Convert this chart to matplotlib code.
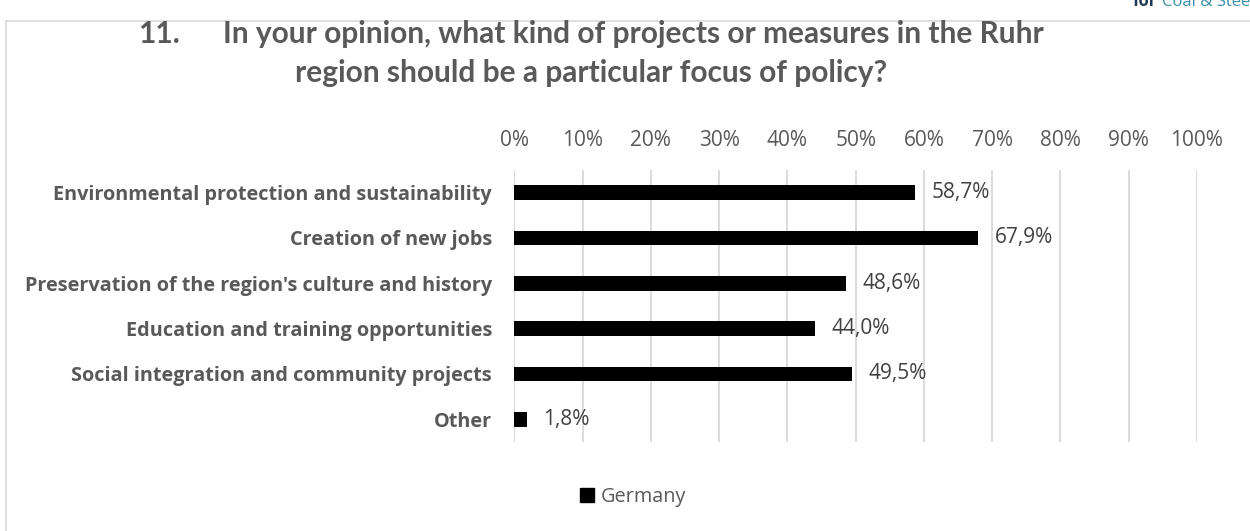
import matplotlib
matplotlib.use("Agg")
import matplotlib.pyplot as plt
from matplotlib.patches import Rectangle
from matplotlib.lines import Line2D

categories = ["Environmental protection and sustainability",
              "Creation of new jobs",
              "Preservation of the region's culture and history",
              "Education and training opportunities",
              "Social integration and community projects",
              "Other"]
values = [58.7, 67.9, 48.6, 44.0, 49.5, 1.8]
value_labels = ["58,7%", "67,9%", "48,6%", "44,0%", "49,5%", "1,8%"]
xticks = list(range(0, 101, 10))
xtick_labels = [f"{t}%" for t in xticks]
series_name = "Germany"

plt.rcParams['font.family'] = ['Open Sans', 'DejaVu Sans']
gray = "#595959"

W, H = 1250, 531
fig = plt.figure(figsize=(12.5, 5.31), dpi=100)
ax = fig.add_axes([514.3 / W, 1 - 442 / H, 682.7 / W, 272 / H])

y = list(range(len(categories)))
ax.barh(y, values, height=0.33, color="black", zorder=3)
ax.set_ylim(len(categories) - 0.5, -0.5)
ax.set_xlim(0, 100)
ax.set_xticks(xticks)
ax.set_xticklabels(xtick_labels, color=gray, fontsize=15)
ax.xaxis.tick_top()
ax.tick_params(axis='x', length=0, pad=13.5)
ax.set_yticks(y)
ax.set_yticklabels(categories, color=gray, fontsize=14.3, fontweight='bold')
ax.tick_params(axis='y', length=0, pad=16)
ax.grid(axis='x', color="#d9d9d9", linewidth=1.3, zorder=0)
for s in ax.spines.values():
    s.set_visible(False)
ax.axvline(0, color="#d9d9d9", linewidth=1.3, zorder=1)

for yi, v, lab in zip(y, values, value_labels):
    ax.annotate(lab, (v, yi), xytext=(12, 0), textcoords='offset points',
                va='center', ha='left', fontsize=15, color="#404040")

# Frame
fig.patches.append(Rectangle((6 / W, -0.01), 1.1, 1 - 21 / H + 0.01,
                             transform=fig.transFigure, fill=False,
                             edgecolor="#d9d9d9", linewidth=1.2))

# Title
tkw = dict(fontsize=21.5, fontweight='bold', color=gray, va='baseline', ha='left',
           family=['Lato', 'DejaVu Sans'])
fig.text(138 / W, 1 - 43 / H, "11.", **tkw)
fig.text(223 / W, 1 - 43 / H,
         "In your opinion, what kind of projects or measures in the Ruhr", **tkw)
fig.text(295 / W, 1 - 82 / H,
         "region should be a particular focus of policy?", **tkw)

# Logo fragment
fig.text(1133 / W, 1 - 6 / H, "for", fontsize=12, fontweight='bold', color="#1f3b57",
         va='baseline', ha='left')
fig.text(1162 / W, 1 - 6 / H, "Coal & Steel", fontsize=12, color="#3b8fa8",
         va='baseline', ha='left')

# Legend
handle = Line2D([], [], marker='s', color='black', linestyle='none', markersize=10.5)
fig.legend([handle], [series_name], loc='center', bbox_to_anchor=(633 / W, 1 - 497 / H),
           frameon=False, fontsize=14.3, labelcolor=gray, handletextpad=0.3,
           handlelength=0.8)

fig.savefig("out.png", dpi=100)
